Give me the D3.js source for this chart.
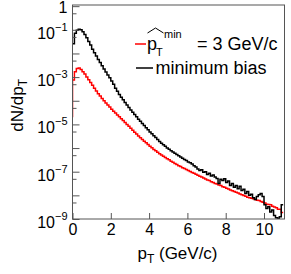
<!DOCTYPE html>
<html lang="en">
<head>
<meta charset="utf-8">
<title>pT spectra</title>
<script src="https://cdn.jsdelivr.net/npm/d3@7"></script>
<style>
  body { margin: 0; background: #fff; }
  svg { display: block; font-family: "Liberation Sans", Arial, sans-serif; }
  .axis path, .axis line { stroke: #555; }
  .axis text { fill: #000; font-size: 16px; }
</style>
</head>
<body>
<script>
// histogram binning (GeV/c)
var binWidth = 0.1;
var xTicks = [0, 2, 4, 6, 8, 10];
var yMajorTicks = [1, 1e-1, 1e-2, 1e-3, 1e-4, 1e-5, 1e-6, 1e-7, 1e-8, 1e-9];
var yMinorTicks = [5e-1, 5e-2, 5e-3, 5e-4, 5e-5, 5e-6, 5e-7, 5e-8, 5e-9];
var yLabelExp = [0, -1, -3, -5, -7, -9];

var seriesColors = ["#ff0000", "#000000"];

// left edge of the red outline at pT = 0
var redStart = 2e-5;

// pthat_min = 3 GeV/c, one value per 0.1 GeV bin from 0 to 11
var redValues = [
  7.6e-4, 1.7e-3, 2.3e-3, 2.4e-3, 2.1e-3, 1.7e-3, 1.35e-3, 1.02e-3, 7.8e-4, 5.9e-4,
  4.5e-4, 3.4e-4, 2.6e-4, 2.0e-4, 1.6e-4, 1.26e-4, 1.0e-4, 8.1e-5, 6.6e-5, 5.4e-5,
  4.4e-5, 3.6e-5, 3.0e-5, 2.5e-5, 2.1e-5, 1.74e-5, 1.45e-5, 1.2e-5, 1.0e-5, 8.3e-6,
  6.8e-6, 5.6e-6, 4.7e-6, 3.9e-6, 3.2e-6, 2.7e-6, 2.3e-6, 1.95e-6, 1.66e-6, 1.41e-6,
  1.2e-6, 1.02e-6, 8.7e-7, 7.6e-7, 6.6e-7, 5.8e-7, 5.1e-7, 4.5e-7, 4.0e-7, 3.5e-7,
  3.2e-7, 2.8e-7, 2.5e-7, 2.2e-7, 2.0e-7, 1.8e-7, 1.66e-7, 1.48e-7, 1.35e-7, 1.23e-7,
  1.12e-7, 1.02e-7, 9.3e-8, 8.5e-8, 7.8e-8, 7.1e-8, 6.5e-8, 5.9e-8, 5.4e-8, 4.9e-8,
  4.5e-8, 4.2e-8, 3.8e-8, 3.5e-8, 3.2e-8, 3.0e-8, 2.75e-8, 2.6e-8, 2.3e-8, 2.2e-8,
  2.0e-8, 1.86e-8, 1.7e-8, 1.58e-8, 1.45e-8, 1.35e-8, 1.26e-8, 1.15e-8, 1.07e-8, 9.8e-9,
  9.1e-9, 8.3e-9, 7.9e-9, 7.6e-9, 7.1e-9, 6.6e-9, 6.2e-9, 6.0e-9, 5.5e-9, 5.1e-9,
  4.8e-9, 4.2e-9, 4.1e-9, 4.0e-9, 3.5e-9, 3.2e-9, 3.0e-9, 2.6e-9, 2.6e-9, 1.9e-9
];

// minimum bias
var blackValues = [
  2.6e-2, 7.2e-2, 9.5e-2, 1.05e-1, 1.0e-1, 8.3e-2, 6.3e-2, 4.6e-2, 3.2e-2, 2.3e-2,
  1.5e-2, 1.07e-2, 7.8e-3, 5.6e-3, 4.1e-3, 3.0e-3, 2.2e-3, 1.66e-3, 1.23e-3, 9.3e-4,
  6.8e-4, 5.0e-4, 3.4e-4, 2.5e-4, 1.85e-4, 1.42e-4, 1.1e-4, 8.5e-5, 6.6e-5, 5.2e-5,
  4.1e-5, 3.3e-5, 2.6e-5, 2.1e-5, 1.66e-5, 1.35e-5, 1.1e-5, 8.9e-6, 7.2e-6, 5.9e-6,
  4.8e-6, 4.0e-6, 3.3e-6, 2.8e-6, 2.3e-6, 1.9e-6, 1.6e-6, 1.38e-6, 1.18e-6, 1.0e-6,
  8.8e-7, 7.7e-7, 6.8e-7, 6.0e-7, 5.3e-7, 4.7e-7, 4.2e-7, 3.7e-7, 3.3e-7, 2.95e-7,
  2.6e-7, 2.4e-7, 2.1e-7, 1.8e-7, 1.6e-7, 1.3e-7, 1.12e-7, 1.2e-7, 9.5e-8, 1.0e-7,
  7.6e-8, 8.7e-8, 6.6e-8, 7.2e-8, 6.0e-8, 5.2e-8, 3.2e-8, 4.8e-8, 4.2e-8, 5.0e-8,
  3.5e-8, 4.0e-8, 2.6e-8, 3.2e-8, 2.2e-8, 2.6e-8, 1.9e-8, 2.4e-8, 1.6e-8, 1.8e-8,
  1.2e-8, 1.45e-8, 1.0e-8, 1.12e-8, 7.9e-9, 6.6e-9, 8.9e-9, 1.05e-8, 1.2e-8, 8.9e-9,
  4.0e-9, 2.8e-9, 3.3e-9, 2.0e-9, 2.4e-9, 1.4e-9, 1.12e-9, 1.07e-9, 1.26e-9, 4.0e-9
];

var width = 291, height = 274;
var plotL = 72.5, plotR = 284.5, plotT = 5, plotB = 219;

var svg = d3.select("body").append("svg")
  .attr("width", width)
  .attr("height", height);

var x = d3.scaleLinear().domain([0, 11.07]).range([plotL, plotR]);
var y = d3.scaleLog().domain([1e-9, 1.12]).range([plotB, plotT]);

svg.append("clipPath").attr("id", "plot")
  .append("rect")
  .attr("x", plotL).attr("y", plotT)
  .attr("width", plotR - plotL).attr("height", plotB - plotT);

function binPoints(values, start) {
  var pts = values.map(function(v, i) { return [i * binWidth, v]; });
  pts.push([values.length * binWidth, values[values.length - 1]]);
  if (start != null) pts.unshift([0, start]);
  return pts;
}

var line = d3.line()
  .x(function(d) { return x(d[0]); })
  .y(function(d) { return y(d[1]); })
  .curve(d3.curveStepAfter);

var hists = svg.append("g").attr("clip-path", "url(#plot)");

hists.append("path")
  .datum(binPoints(redValues, redStart))
  .attr("fill", "none")
  .attr("stroke", seriesColors[0])
  .attr("stroke-width", 1.5)
  .attr("d", line);

hists.append("path")
  .datum(binPoints(blackValues, null))
  .attr("fill", "none")
  .attr("stroke", seriesColors[1])
  .attr("stroke-width", 1.5)
  .attr("d", line);

// frame
svg.append("rect")
  .attr("x", plotL).attr("y", plotT)
  .attr("width", plotR - plotL).attr("height", plotB - plotT)
  .attr("fill", "none")
  .attr("stroke", "#555")
  .attr("stroke-width", 1);

// x axis
var xAxis = d3.axisBottom(x)
  .tickValues(xTicks)
  .tickSizeInner(-6)
  .tickSizeOuter(0)
  .tickPadding(5)
  .tickFormat(d3.format("d"));

var gx = svg.append("g").attr("class", "axis")
  .attr("transform", "translate(0," + plotB + ")")
  .call(xAxis)
  .attr("font-family", null).attr("font-size", null);
gx.select(".domain").remove();

// y axis: short ticks at 5 x 10^n
var gyMinor = svg.append("g").attr("class", "axis")
  .attr("transform", "translate(" + plotL + ",0)")
  .call(d3.axisLeft(y).tickValues(yMinorTicks).tickSizeInner(-4).tickSizeOuter(0).tickFormat(""));
gyMinor.select(".domain").remove();

// y axis: decades
var gy = svg.append("g").attr("class", "axis")
  .attr("transform", "translate(" + plotL + ",0)")
  .call(d3.axisLeft(y).tickValues(yMajorTicks).tickSizeInner(-7).tickSizeOuter(0)
    .tickPadding(5).tickFormat(""))
  .attr("font-family", null).attr("font-size", null);
gy.select(".domain").remove();

gy.selectAll(".tick text").each(function(d) {
  var e = Math.round(Math.log10(d));
  var t = d3.select(this).attr("dy", null);
  if (yLabelExp.indexOf(e) < 0) return;
  if (e === 0) {
    t.attr("y", 6).text("1");
    return;
  }
  t.attr("y", 8.5);
  t.append("tspan").text("10");
  t.append("tspan").attr("font-size", 11).attr("dy", -8).text("\u2212" + (-e));
});

// axis titles
var xt = svg.append("text")
  .attr("x", 177.5).attr("y", 259)
  .attr("text-anchor", "middle")
  .attr("font-size", 17);
xt.append("tspan").text("p");
xt.append("tspan").attr("font-size", 12).attr("dy", 4).text("T");
xt.append("tspan").attr("dy", -4).text(" (GeV/c)");

var yt = svg.append("text")
  .attr("transform", "translate(23,79) rotate(-90)")
  .attr("text-anchor", "end")
  .attr("font-size", 17);
yt.append("tspan").text("dN/dp");
yt.append("tspan").attr("font-size", 12).attr("dy", 4).text("T");

// legend
var legend = svg.append("g");
legend.append("line")
  .attr("x1", 135).attr("x2", 146).attr("y1", 44).attr("y2", 44)
  .attr("stroke", seriesColors[0]).attr("stroke-width", 1.5);
legend.append("line")
  .attr("x1", 136).attr("x2", 153).attr("y1", 68).attr("y2", 68)
  .attr("stroke", seriesColors[1]).attr("stroke-width", 1.5);

legend.append("text").attr("x", 147).attr("y", 50).attr("font-size", 18).text("p");
legend.append("text").attr("x", 156).attr("y", 56).attr("font-size", 11).text("T");
legend.append("text").attr("x", 164).attr("y", 38).attr("font-size", 11).text("min");
legend.append("path")
  .attr("d", "M147.5,33L155.5,28L163.5,33")
  .attr("fill", "none").attr("stroke", "#000").attr("stroke-width", 1);
legend.append("text").attr("x", 197).attr("y", 50).attr("font-size", 18).text("= 3 GeV/c");
legend.append("text").attr("x", 155.5).attr("y", 74).attr("font-size", 18).text("minimum bias");
</script>
</body>
</html>
